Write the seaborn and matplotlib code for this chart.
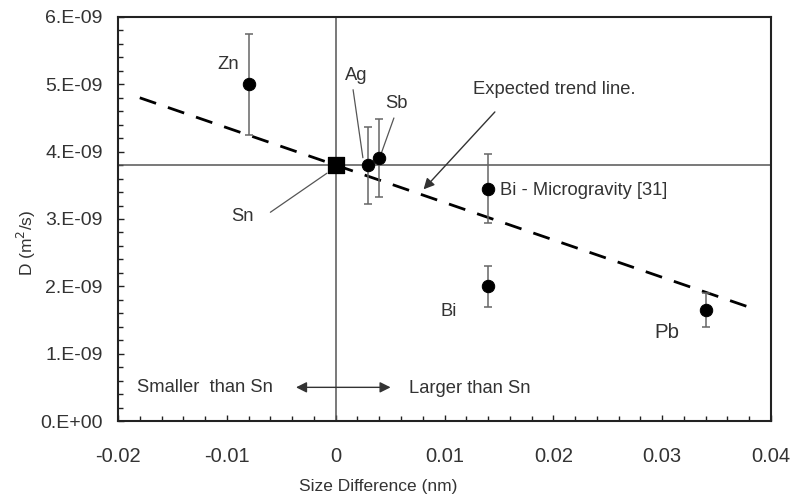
import numpy as np
import pandas as pd
import seaborn as sns
import matplotlib.pyplot as plt

# data (D in units of 1e-9 m^2/s)
elements = ["Zn", "Ag", "Sb", "Bi - Microgravity [31]", "Bi", "Pb"]
size_diff = [-0.008, 0.003, 0.004, 0.014, 0.014, 0.034]
diff_coef = [5.0, 3.8, 3.9, 3.45, 2.0, 1.65]
diff_err = [0.75, 0.57, 0.58, 0.51, 0.30, 0.25]
sn_x = [0.0]
sn_d = [3.8]
trend_x = [-0.018, 0.038]
trend_d = [4.80, 1.69]

sns.set_style("ticks")
plt.rcParams["font.family"] = ["Liberation Sans", "DejaVu Sans"]

df = pd.DataFrame({"x": size_diff, "D": np.array(diff_coef) * 1e-9,
                   "err": np.array(diff_err) * 1e-9, "name": elements})

fig = plt.figure(figsize=(7.92, 4.98), dpi=100)
ax = fig.add_axes([0.149, 0.1546, 0.8245, 0.8113])

# reference cross lines through Sn
ax.axhline(sn_d[0] * 1e-9, color="#555555", lw=1.1, zorder=1)
ax.axvline(sn_x[0], color="#555555", lw=1.1, zorder=1)

# trend line
sns.lineplot(x=trend_x, y=np.array(trend_d) * 1e-9, ax=ax, color="black",
             lw=2, zorder=2)
ax.lines[-1].set_dashes([6.2, 4.5])

ax.errorbar(df["x"], df["D"], yerr=df["err"], fmt="none", ecolor="#666666",
            elinewidth=1.1, capsize=3, capthick=1.1, zorder=3)
sns.scatterplot(data=df, x="x", y="D", ax=ax, color="black", s=80,
                marker="o", edgecolor="black", zorder=4)
sns.scatterplot(x=sn_x, y=np.array(sn_d) * 1e-9, ax=ax, color="black", s=135,
                marker="s", edgecolor="black", zorder=4)

ax.set_xlim(-0.02, 0.04)
ax.set_ylim(0, 6e-9)
ax.set_xticks(np.arange(-0.02, 0.0401, 0.01))
ax.set_xticklabels(["-0.02", "-0.01", "0", "0.01", "0.02", "0.03", "0.04"])
ax.set_xticks(np.arange(-0.02, 0.0401, 0.002), minor=True)
ax.set_yticks(np.arange(0, 6.01e-9, 1e-9))
ax.set_yticklabels(["0.E+00", "1.E-09", "2.E-09", "3.E-09", "4.E-09",
                    "5.E-09", "6.E-09"])
ax.set_yticks(np.arange(0, 6.01e-9, 0.2e-9), minor=True)
ax.tick_params(which="both", direction="in", colors="#222222", labelcolor="#333333")
ax.tick_params(axis="x", which="major", labelsize=14.5, length=4, width=1, pad=19)
ax.tick_params(axis="y", which="major", labelsize=14, length=4, width=1, pad=11)
ax.tick_params(which="minor", length=3.5, width=1)
for sp in ax.spines.values():
    sp.set_visible(True)
    sp.set_linewidth(1.5)
    sp.set_color("#222222")

ax.set_xlabel("Size Difference (nm)", fontsize=12.5, color="#333333")
ax.set_ylabel("D (m$^2$/s)", fontsize=12.5, color="#333333")
ax.xaxis.set_label_coords(0.399, -0.143)
ax.yaxis.set_label_coords(-0.122, 0.44)

fs = 13.2
tc = "#333333"
ax.text(-0.0109, 5.29e-9, "Zn", fontsize=fs, ha="left", va="center", color=tc)
ax.text(0.0019, 5.13e-9, "Ag", fontsize=fs, ha="center", va="center", color=tc)
ax.text(0.0056, 4.72e-9, "Sb", fontsize=fs, ha="center", va="center", color=tc)
ax.text(-0.0086, 3.03e-9, "Sn", fontsize=fs, ha="center", va="center", color=tc)
ax.text(0.0151, 3.43e-9, "Bi - Microgravity [31]", fontsize=fs, ha="left", va="center", color=tc)
ax.text(0.0096, 1.62e-9, "Bi", fontsize=fs, ha="left", va="center", color=tc)
ax.text(0.0293, 1.31e-9, "Pb", fontsize=14.7, ha="left", va="center", color=tc)
ax.text(0.0126, 4.93e-9, "Expected trend line.", fontsize=fs, ha="left", va="center", color=tc)
ax.text(-0.0183, 0.5e-9, "Smaller  than Sn", fontsize=fs, ha="left", va="center", color=tc)
ax.text(0.0067, 0.49e-9, "Larger than Sn", fontsize=fs, ha="left", va="center", color=tc)

# leader lines
lc = "#555555"
ax.plot([0.0016, 0.0025], [4.92e-9, 3.91e-9], color=lc, lw=0.9)
ax.plot([0.00535, 0.0042], [4.50e-9, 3.98e-9], color=lc, lw=0.9)
ax.plot([-0.006, -0.0008], [3.1e-9, 3.68e-9], color=lc, lw=0.9)
ax.annotate("", xy=(0.0079, 3.41e-9), xytext=(0.0148, 4.62e-9),
            arrowprops=dict(arrowstyle="-|>", color="#333333", lw=1,
                            mutation_scale=16))
ax.annotate("", xy=(-0.0039, 0.5e-9), xytext=(0.0053, 0.5e-9),
            arrowprops=dict(arrowstyle="<|-|>", color="#333333", lw=1,
                            mutation_scale=16))

fig.savefig("out.png", dpi=100)
